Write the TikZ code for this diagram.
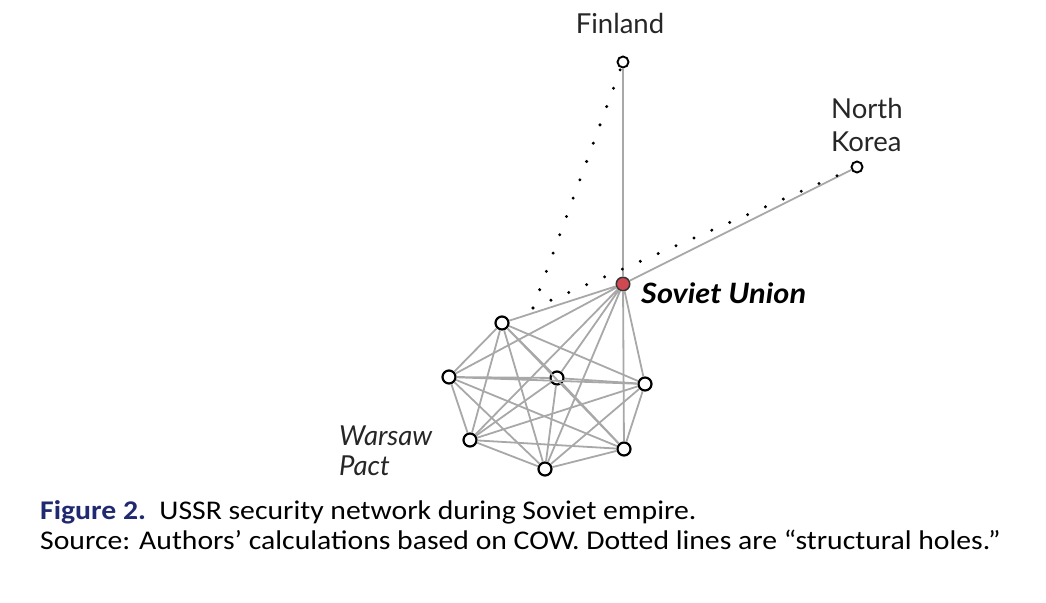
\documentclass[tikz,border=0pt]{standalone}
\usepackage{fontspec}
\setmainfont{Lato}
\newfontfamily\capfont{Carlito}
\usepackage{xcolor}
\usetikzlibrary{positioning,calc}

\definecolor{sured}{RGB}{208,72,82}
\definecolor{edgegray}{RGB}{168,168,168}
\definecolor{capblue}{RGB}{32,42,112}

\tikzset{
    state/.style={circle, draw=black, fill=white, line width=2.2pt, inner sep=0pt, minimum size=13pt},
    small state/.style={state, minimum size=11pt, line width=1.9pt},
    hub/.style={state, fill=sured, draw=black!80, minimum size=13.5pt, line width=1.5pt},
    tie/.style={edgegray, line width=1.8pt},
    hole/.style={line width=3.3pt, line cap=round, dash pattern=on 0pt off 19.5pt},
    country/.style={font=\fontsize{27.5}{33}\selectfont, text=black!85, inner sep=0pt, align=left}
}

\begin{document}
\begin{tikzpicture}[x=1pt, y=-1pt]
    \useasboundingbox (0,0) rectangle (1046,602);

    % Countries
    \node[hub] (su) at (623,284) {};
    \node[small state] (fin) at (623,62) {};
    \node[small state] (nk) at (857,167) {};

    % Warsaw Pact members
    \node[state] (w1) at (502,323) {};
    \node[state] (w2) at (449,377) {};
    \node[state] (w3) at (557,378) {};
    \node[state] (w4) at (645,384) {};
    \node[state] (w5) at (470,440) {};
    \node[state] (w6) at (545,469) {};
    \node[state] (w7) at (624,449) {};

    % Alliance ties
    \draw[tie] (su) -- (fin) (su) -- (nk);
    \draw[tie] (su) -- (w1) (su) -- (w2) (su) -- (w3) (su) -- (w4) (su) -- (w5) (su) -- (w6) (su) -- (w7);
    \draw[tie] (w1) -- (w2) (w1) -- (w3) (w1) -- (w4) (w1) -- (w5) (w1) -- (w6) (w1) -- (w7);
    \draw[tie] (w2) -- (w3) (w2) -- (w4) (w2) -- (w5) (w2) -- (w6) (w2) -- (w7);
    \draw[tie] (w3) -- (w4) (w3) -- (w5) (w3) -- (w6) (w3) -- (w7);
    \draw[tie] (w4) -- (w5) (w4) -- (w6) (w4) -- (w7);
    \draw[tie] (w5) -- (w6) (w5) -- (w7);
    \draw[tie] (w6) -- (w7);

    % Structural holes
    \coordinate (gap) at (533,308);
    \draw[hole] (gap) -- (fin);
    \draw[hole] (gap) -- (nk);

    % Labels
    \node[country, anchor=base] (finlabel) at (620,34) {Finland};
    \node[country, anchor=base west] (nklabel) at (831,151) {North\\Korea};
    \node[country, anchor=base west, font=\fontsize{28}{33}\selectfont\bfseries\itshape, text=black] (sulabel) at (641,303)
        {\scalebox{1.1}[1]{Soviet Union}};
    \node[country, anchor=base west, font=\fontsize{27.5}{30}\selectfont\itshape] (wplabel) at (339,475) {Warsaw\\Pact};

    % Caption
    \node[anchor=base west, inner sep=0pt] (caption) at (40,549)
        {\scalebox{1.1}[1]{\capfont\fontsize{27}{30}\selectfont\begin{tabular}[b]{@{}l@{}}
         \textcolor{capblue}{\bfseries Figure 2.}\ \ USSR security network during Soviet empire.\\
         Source: Authors’ calculations based on COW. Dotted lines are “structural holes.”\end{tabular}}};
\end{tikzpicture}
\end{document}
